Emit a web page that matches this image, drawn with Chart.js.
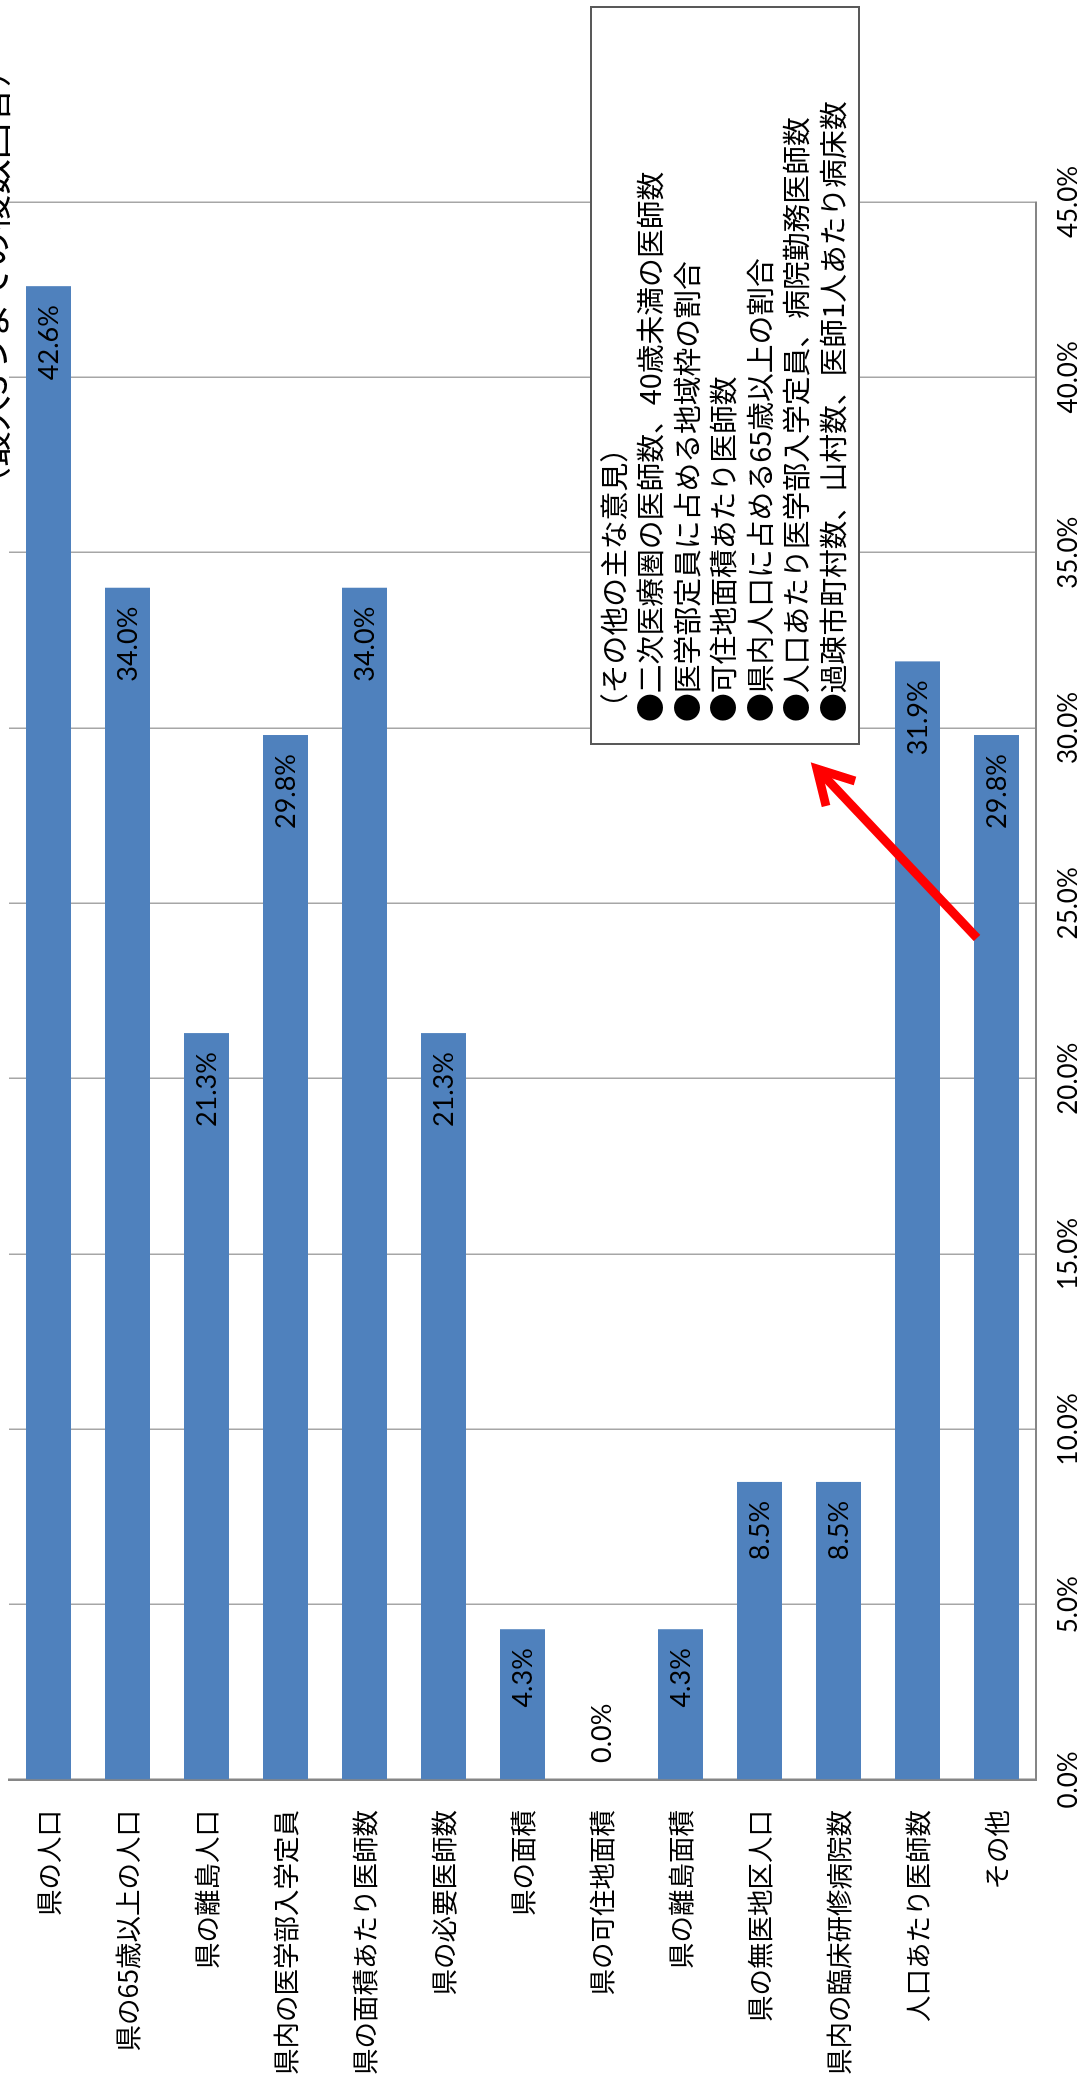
<!DOCTYPE html>
<html lang="ja">
<head>
<meta charset="utf-8">
<script src="https://cdn.jsdelivr.net/npm/chart.js@4.4.1/dist/chart.umd.min.js"></script>
<style>
    html, body { margin: 0; padding: 0; background: #fff; overflow: hidden; }
    /* グラフは横棒で描き、ページ上では90度回して縦置きにする */
    #wrap {
        position: absolute; left: 0; top: 0;
        width: 2083px; height: 1081px;
        transform-origin: 0 0;
        transform: translate(0, 2083px) rotate(-90deg);
    }
</style>
</head>
<body>
<div id="wrap"><canvas id="answersChart" width="2083" height="1081"></canvas></div>
<script>
const chartTitle = '（最大3つまでの複数回答）';

const categories = [
    '県の人口',
    '県の65歳以上の人口',
    '県の離島人口',
    '県内の医学部入学定員',
    '県の面積あたり医師数',
    '県の必要医師数',
    '県の面積',
    '県の可住地面積',
    '県の離島面積',
    '県の無医地区人口',
    '県内の臨床研修病院数',
    '人口あたり医師数',
    'その他'
];

// 回答割合（%）
const shares = [42.6, 34.0, 21.3, 29.8, 34.0, 21.3, 4.3, 0.0, 4.3, 8.5, 8.5, 31.9, 29.8];

const axisMax = 45;
const axisStep = 5;

const otherOpinions = [
    '（その他の主な意見）',
    '●二次医療圏の医師数、40歳未満の医師数',
    '●医学部定員に占める地域枠の割合',
    '●可住地面積あたり医師数',
    '●県内人口に占める65歳以上の割合',
    '●人口あたり医学部入学定員、病院勤務医師数',
    '●過疎市町村数、山村数、医師1人あたり病床数'
];

var CJK = '"Noto Sans CJK JP", sans-serif';
var NUM = 'Lato, "Noto Sans", sans-serif';

// 棒の先端に値ラベル（入らない場合は外側）
var valueLabels = {
    id: 'valueLabels',
    afterDatasetsDraw(chart) {
        var ctx = chart.ctx;
        var meta = chart.getDatasetMeta(0);
        ctx.save();
        ctx.font = '27px ' + NUM;
        ctx.fillStyle = '#000';
        ctx.textBaseline = 'middle';
        meta.data.forEach(function (bar, i) {
            var text = shares[i].toFixed(1) + '%';
            var w = ctx.measureText(text).width;
            if (bar.x - bar.base > w + 38) {
                ctx.textAlign = 'right';
                ctx.fillText(text, bar.x - 19, bar.y + 1);
            } else {
                ctx.textAlign = 'left';
                ctx.fillText(text, bar.x + 17, bar.y + 1);
            }
        });
        ctx.restore();
    }
};

// 見出し・その他意見の枠・矢印
var notes = {
    id: 'notes',
    afterDraw(chart) {
        var ctx = chart.ctx;
        ctx.save();

        ctx.font = '36px ' + CJK;
        ctx.fillStyle = '#000';
        ctx.textAlign = 'left';
        ctx.textBaseline = 'ideographic';
        ctx.fillText(chartTitle, 1580, 11);

        ctx.fillStyle = '#fff';
        ctx.fillRect(1339, 591, 737, 268);
        ctx.strokeStyle = '#595959';
        ctx.lineWidth = 2;
        ctx.strokeRect(1339, 591, 737, 268);

        ctx.font = '28.8px ' + CJK;
        ctx.fillStyle = '#000';
        ctx.textBaseline = 'middle';
        otherOpinions.forEach(function (line, i) {
            ctx.fillText(line, 1361, 614 + i * 36.5);
        });

        ctx.strokeStyle = '#ff0000';
        ctx.lineWidth = 9;
        ctx.lineCap = 'butt';
        ctx.lineJoin = 'miter';
        ctx.beginPath();
        ctx.moveTo(1145, 977);
        ctx.lineTo(1308, 823);
        ctx.stroke();
        ctx.beginPath();
        ctx.moveTo(1302, 855);
        ctx.lineTo(1314, 817);
        ctx.lineTo(1277, 826);
        ctx.stroke();

        ctx.restore();
    }
};

var ctx = document.getElementById('answersChart').getContext('2d');
var answersChart = new Chart(ctx, {
    type: 'bar',
    data: {
        labels: categories,
        datasets: [{
            data: shares,
            backgroundColor: '#4f81bd',
            borderWidth: 0,
            barPercentage: 0.57,
            categoryPercentage: 1
        }]
    },
    options: {
        indexAxis: 'y',
        responsive: false,
        animation: false,
        devicePixelRatio: 1,
        layout: { padding: { top: 9, right: 202, left: 0, bottom: 0 } },
        plugins: {
            legend: { display: false },
            tooltip: { enabled: false }
        },
        scales: {
            x: {
                position: 'bottom',
                min: 0,
                max: axisMax,
                afterFit: function (s) { s.height = 45; },
                grid: { color: '#a6a6a6', lineWidth: 1.5, drawTicks: false },
                border: { color: '#868686', width: 2 },
                ticks: {
                    stepSize: axisStep,
                    padding: 17,
                    color: '#000',
                    font: { family: NUM, size: 26 },
                    callback: function (v) { return v.toFixed(1) + '%'; }
                }
            },
            y: {
                afterFit: function (s) {
                    s.width = 303;
                    s.paddingTop = 0;
                    s.paddingBottom = 0;
                },
                grid: { display: false, drawTicks: false },
                border: { color: '#868686', width: 2.5 },
                ticks: {
                    padding: 30,
                    color: '#000',
                    autoSkip: false,
                    font: { family: CJK, size: 26.5 }
                }
            }
        }
    },
    plugins: [valueLabels, notes]
});
</script>
</body>
</html>
